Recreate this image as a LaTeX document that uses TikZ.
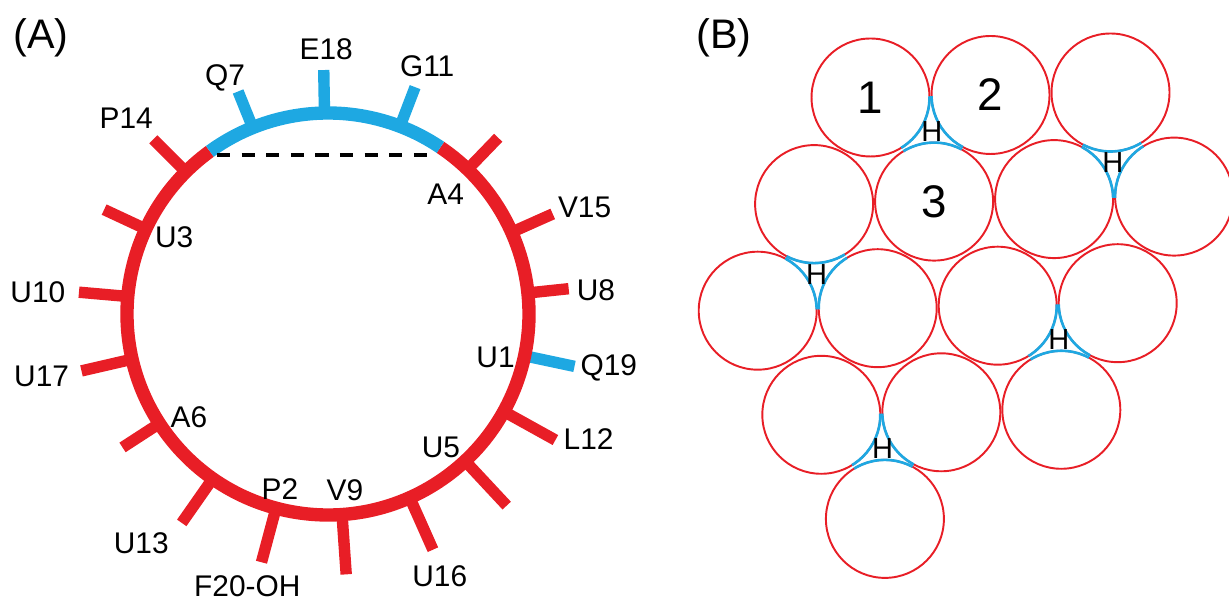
\documentclass[tikz,border=0pt]{standalone}
\usepackage{fontspec}
\setmainfont{Liberation Sans}
\usetikzlibrary{calc}
\definecolor{ringred}{RGB}{232,30,38}
\definecolor{hblue}{RGB}{30,168,226}
\tikzset{
  ring/.style={line width=7.6pt},
  stub/.style={line width=6.5pt},
  res/.style={font=\fontsize{17}{17}\selectfont, inner sep=0pt},
  panel/.style={font=\fontsize{23.5}{23.5}\selectfont, inner sep=0pt},
  ball/.style={circle, draw=ringred, line width=1.1pt, minimum size=2.36cm, inner sep=0pt, font=\fontsize{26}{26}\selectfont},
  hbond/.style={draw=hblue, line width=1.5pt},
  hlab/.style={font=\fontsize{16.5}{16.5}\selectfont, inner sep=0pt}
}
\begin{document}
\begin{tikzpicture}[x=0.02cm,y=0.02cm]
\useasboundingbox (0,0) rectangle (1229,604);
% (A) wheel
\node[panel] (pa) at (41,566) {(A)};
\coordinate (hc) at (328,290);
\foreach \a/\l/\c in {348/252/hblue,255/257/ringred,155/247/ringred,46/245/ringred,
  313/262/ringred,213/245/ringred,112/240/hblue,6/242/ringred,274/261/ringred,
  175/250/ringred,69/243/hblue,331/260/ringred,235/255/ringred,135/247/ringred,
  24/246/ringred,294/258/ringred,193/253/ringred,91/244/hblue}
  \draw[stub,color=\c] ([shift={(\a:201)}]hc) -- ([shift={(\a:\l)}]hc);
\draw[ring,ringred] ([shift={(126:201)}]hc) arc[start angle=126,end angle=416,radius=201];
\draw[ring,hblue] ([shift={(56:201)}]hc) arc[start angle=56,end angle=126,radius=201];
\coordinate (d1) at (217,449);
\coordinate (d2) at (427,449);
\draw[line width=2.8pt,dash pattern=on 7.5pt off 6.5pt] (d1) -- (d2);
\foreach \lab/\ang/\rad [count=\k] in {E18/90.4/265,Q7/113.5/258,G11/68.2/267,P14/135.9/281,
  A4/45.5/168,V15/22.6/278,U3/153.4/172,U10/175.7/291,U8/5.1/269,U17/192.2/293,
  U1/-14.4/173,Q19/-10.9/286,A6/216.5/173,L12/-25.6/289,U5/310.2/175,P2/254.7/182,
  V9/275.5/177,U13/230.9/296,F20-OH/253.5/284,U16/293.1/285}
  \node[res] (lab\k) at ([shift={(\ang:\rad)}]hc) {\lab};
% (B) packing
\node[panel] (pb) at (724,566) {(B)};
\foreach \i/\j/\t in {0/0/1,1/0/2,2/0/,0/1/,1/1/3,2/1/,3/1/,0/2/,1/2/,2/2/,3/2/,
  1/3/,2/3/,3/3/,2/4/}
  \node[ball] (s\i\j) at ({870.5+120*\i-56.4*\j},{506.5+2.5*\i-106.6*\j}) {\t};
\foreach \x/\y/\z in {s00/s10/s11,s20/s21/s31,s01/s02/s12,s22/s32/s33,s13/s23/s24}{
  \begin{scope}
    \clip (\x.center) -- (\y.center) -- (\z.center) -- cycle;
    \foreach \n in {\x,\y,\z}
      \draw[hbond] (\n.center) circle[radius=59];
  \end{scope}
  \node[hlab] (h\x) at ($(\x)!0.5!(\y)!1/3!(\z)$) {H};
}
\end{tikzpicture}
\end{document}
